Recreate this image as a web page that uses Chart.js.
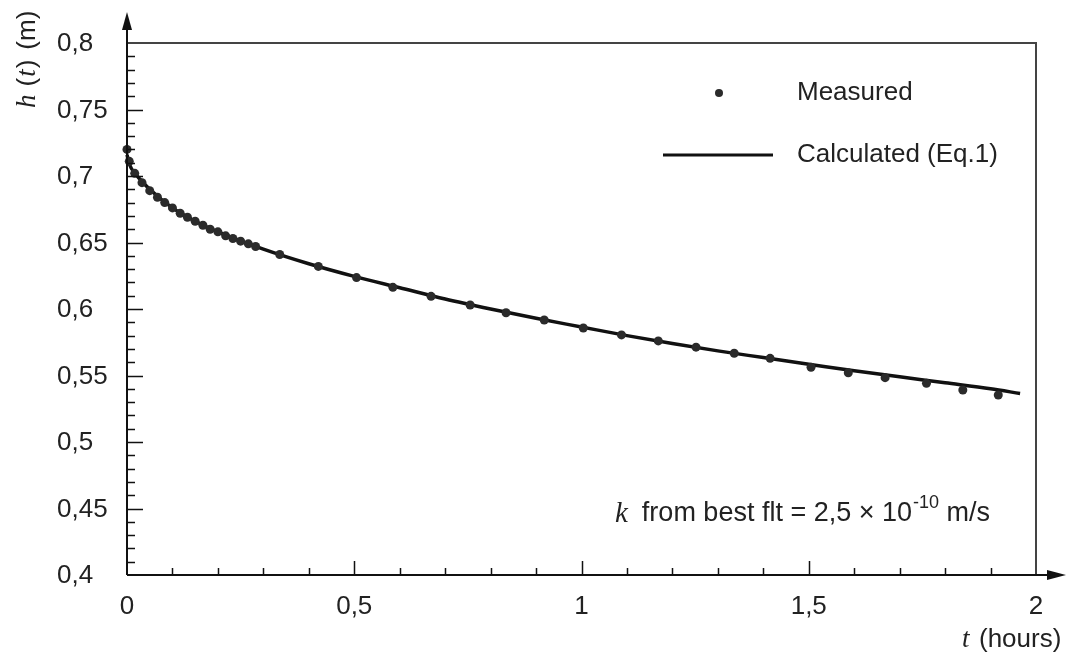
<!DOCTYPE html>
<html>
<head>
<meta charset="utf-8">
<script src="https://cdn.jsdelivr.net/npm/chart.js@4.4.1/dist/chart.umd.min.js"></script>
<style>
  html, body { margin: 0; padding: 0; background: #fff; }
  #wrap { width: 1070px; height: 656px; }
</style>
</head>
<body>
<div id="wrap"><canvas id="chart" width="1070" height="656"></canvas></div>
<script>
// measured head h(t) in m, t in hours
const measuredT = [0, 0.005, 0.017, 0.033, 0.05, 0.067, 0.083, 0.1, 0.117, 0.133, 0.15, 0.167, 0.183, 0.2, 0.217, 0.233, 0.25, 0.267, 0.283,
  0.336, 0.421, 0.505, 0.585, 0.669, 0.755, 0.834, 0.918, 1.004, 1.088, 1.169, 1.252, 1.336, 1.415, 1.505, 1.587, 1.668, 1.759, 1.839, 1.917];
const measuredH = [0.720, 0.711, 0.702, 0.695, 0.689, 0.684, 0.680, 0.676, 0.672, 0.669, 0.666, 0.663, 0.660, 0.658, 0.655, 0.653, 0.651, 0.649, 0.647,
  0.641, 0.632, 0.6236, 0.6163, 0.6095, 0.603, 0.5972, 0.5917, 0.5857, 0.5805, 0.576, 0.5713, 0.5667, 0.5629, 0.5562, 0.5521, 0.5484, 0.5441, 0.5391, 0.5353];

// calculated curve (Eq.1)
const calcT = [0, 0.005, 0.02, 0.05, 0.1, 0.15, 0.2, 0.3, 0.4, 0.5, 0.6, 0.7, 0.8, 0.9, 1.0, 1.1, 1.2, 1.3, 1.4, 1.5, 1.6, 1.7, 1.8, 1.9, 1.965];
const calcH = [0.716, 0.709, 0.701, 0.690, 0.676, 0.666, 0.658, 0.645, 0.634, 0.6245, 0.616, 0.6075, 0.600, 0.593, 0.5865, 0.580, 0.574, 0.5685, 0.5635, 0.5585, 0.5535, 0.549, 0.5445, 0.540, 0.5365];

const xTicks = [0, 0.5, 1, 1.5, 2];
const xTickLabels = ['0', '0,5', '1', '1,5', '2'];
const yTicks = [0.4, 0.45, 0.5, 0.55, 0.6, 0.65, 0.7, 0.75, 0.8];
const yTickLabels = ['0,4', '0,45', '0,5', '0,55', '0,6', '0,65', '0,7', '0,75', '0,8'];

const SANS = '"Liberation Sans", Arial, sans-serif';
const SERIF = '"Liberation Serif", "Times New Roman", serif';
const TEXT = '#222';

const axesPlugin = {
  id: 'axesPlugin',
  afterDraw(chart) {
    const ctx = chart.ctx;
    const xs = chart.scales.x, ys = chart.scales.y;
    const area = chart.chartArea;
    const x0 = xs.getPixelForValue(0), y0 = ys.getPixelForValue(0.4);
    ctx.save();

    // frame top / right
    ctx.strokeStyle = '#444';
    ctx.lineWidth = 2;
    ctx.beginPath();
    ctx.moveTo(x0, area.top);
    ctx.lineTo(area.right, area.top);
    ctx.lineTo(area.right, y0);
    ctx.stroke();

    // axes with arrows
    ctx.strokeStyle = '#111';
    ctx.fillStyle = '#111';
    ctx.lineWidth = 2;
    ctx.beginPath();
    ctx.moveTo(x0, y0);
    ctx.lineTo(x0, 20);
    ctx.moveTo(x0, y0);
    ctx.lineTo(1058, y0);
    ctx.stroke();
    ctx.beginPath();
    ctx.moveTo(x0, 12); ctx.lineTo(x0 - 5, 30); ctx.lineTo(x0 + 5, 30); ctx.closePath();
    ctx.fill();
    ctx.beginPath();
    ctx.moveTo(1066, y0); ctx.lineTo(1047, y0 - 5); ctx.lineTo(1047, y0 + 5); ctx.closePath();
    ctx.fill();

    // inward ticks
    ctx.lineWidth = 1.5;
    ctx.beginPath();
    for (let i = 1; i < 40; i++) {
      const v = 0.4 + i * 0.01;
      const y = Math.round(ys.getPixelForValue(v)) + 0.5;
      const len = (i % 5 === 0) ? 16 : 8;
      ctx.moveTo(x0, y); ctx.lineTo(x0 + len, y);
    }
    for (let i = 1; i < 20; i++) {
      const x = Math.round(xs.getPixelForValue(i * 0.1)) + 0.5;
      const len = (i % 5 === 0) ? 14 : 7;
      ctx.moveTo(x, y0); ctx.lineTo(x, y0 - len);
    }
    ctx.stroke();

    // tick labels
    ctx.fillStyle = TEXT;
    ctx.font = '26px ' + SANS;
    ctx.textBaseline = 'middle';
    ctx.textAlign = 'left';
    yTicks.forEach((v, i) => ctx.fillText(yTickLabels[i], 57, ys.getPixelForValue(v) + 1));
    ctx.textAlign = 'center';
    xTicks.forEach((v, i) => ctx.fillText(xTickLabels[i], xs.getPixelForValue(v), 607));

    // y title (rotated)
    ctx.save();
    ctx.translate(35, 108);
    ctx.rotate(-Math.PI / 2);
    ctx.textAlign = 'left';
    ctx.textBaseline = 'alphabetic';
    let cx = 0;
    const part = (txt, font, gap) => { ctx.font = font; ctx.fillText(txt, cx, 0); cx += ctx.measureText(txt).width + (gap || 0); };
    part('h', 'italic 27px ' + SERIF, 8);
    part('(', '26px ' + SANS, 1);
    part('t', 'italic 27px ' + SERIF, 1);
    part(')', '26px ' + SANS, 10);
    part('(m)', '26px ' + SANS);
    ctx.restore();

    // x title
    ctx.textAlign = 'left';
    ctx.textBaseline = 'middle';
    ctx.font = 'italic 27px ' + SERIF;
    ctx.fillText('t', 962, 640);
    ctx.font = '26px ' + SANS;
    ctx.fillText('(hours)', 979, 640);

    // legend
    const ds0 = chart.data.datasets[0], ds1 = chart.data.datasets[1];
    ctx.fillStyle = ds0.backgroundColor;
    ctx.beginPath(); ctx.arc(719, 93, 4, 0, Math.PI * 2); ctx.fill();
    ctx.strokeStyle = ds1.borderColor;
    ctx.lineWidth = 3;
    ctx.beginPath(); ctx.moveTo(663, 155); ctx.lineTo(773, 155); ctx.stroke();
    ctx.fillStyle = TEXT;
    ctx.font = '26px ' + SANS;
    ctx.fillText(ds0.label, 797, 93);
    ctx.fillText(ds1.label, 797, 155);

    // annotation
    let ax = 615;
    const ay = 514;
    ctx.font = 'italic 29px ' + SERIF;
    ctx.fillText('k', ax, ay); ax += ctx.measureText('k').width + 14;
    ctx.font = '27px ' + SANS;
    const s1 = 'from best flt = 2,5 × 10';
    ctx.fillText(s1, ax, ay); ax += ctx.measureText(s1).width + 1;
    ctx.font = '18px ' + SANS;
    ctx.fillText('-10', ax, ay - 11); ax += ctx.measureText('-10').width;
    ctx.font = '27px ' + SANS;
    ctx.fillText(' m/s', ax, ay);

    ctx.restore();
  }
};

new Chart(document.getElementById('chart'), {
  type: 'scatter',
  data: {
    datasets: [
      {
        label: 'Measured',
        data: measuredT.map((t, i) => ({ x: t, y: measuredH[i] })),
        showLine: false,
        pointRadius: 4.5,
        pointBorderWidth: 0,
        backgroundColor: '#2b2b2b',
        borderColor: '#2b2b2b',
        clip: false,
        order: 1
      },
      {
        label: 'Calculated (Eq.1)',
        data: calcT.map((t, i) => ({ x: t, y: calcH[i] })),
        showLine: true,
        pointRadius: 0,
        borderColor: '#111',
        borderWidth: 3.5,
        cubicInterpolationMode: 'monotone',
        clip: false,
        order: 2
      }
    ]
  },
  options: {
    responsive: false,
    animation: false,
    devicePixelRatio: 1,
    layout: { padding: { left: 127, right: 34, top: 43, bottom: 81 } },
    plugins: { legend: { display: false }, tooltip: { enabled: false } },
    scales: {
      x: { type: 'linear', min: 0, max: 2, display: false },
      y: { type: 'linear', min: 0.4, max: 0.8, display: false }
    }
  },
  plugins: [axesPlugin]
});
</script>
</body>
</html>
